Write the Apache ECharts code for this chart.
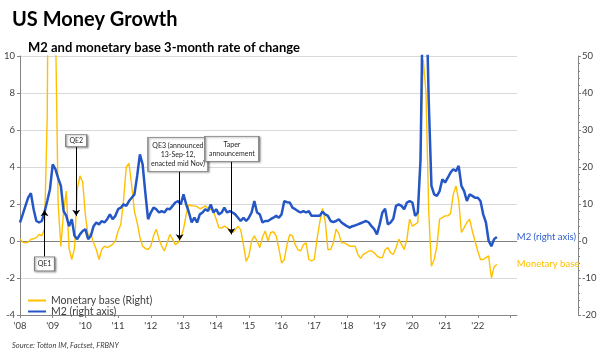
<!DOCTYPE html>
<html><head><meta charset="utf-8">
<script src="https://cdn.jsdelivr.net/npm/echarts@6/dist/echarts.min.js"></script>
<style>html,body{margin:0;padding:0;background:#fff}#c{width:602px;height:353px}</style>
</head><body><div id="c"></div>
<script>
// Monthly observations starting Jan 2008 (3-month rate of change, right-axis units)
const startYear = 2008;
const yearTicks = ["'08","'09","'10","'11","'12","'13","'14","'15","'16","'17","'18","'19","'20","'21","'22"];
const m2 = [
 5.0,7.2,9.5,11.7,12.9,8.6,5.4,5.0,5.4,7.8,10.8,14.0,
 20.7,19.4,17.0,14.9,8.1,6.8,4.0,5.9,1.4,0.5,1.8,2.7,
 3.2,0.5,1.4,4.0,5.0,4.5,5.4,5.0,5.9,7.2,5.9,6.8,
 8.6,9.0,9.9,9.5,10.8,11.7,12.6,17.6,23.4,20.7,13.0,5.9,
 7.7,9.0,8.6,7.7,8.1,7.7,8.7,8.6,9.5,10.4,10.8,9.9,
 12.6,9.9,7.7,5.0,6.3,5.0,7.2,7.7,8.6,8.1,9.9,7.7,
 8.6,7.2,7.7,9.0,7.7,8.1,7.7,7.2,6.3,5.4,6.3,5.4,
 6.3,7.7,10.8,7.7,7.2,5.0,5.4,5.4,5.9,6.3,6.8,6.3,
 7.2,10.8,10.5,10.4,9.0,8.6,8.1,7.7,8.1,7.7,8.1,6.8,
 6.8,6.8,6.8,7.9,7.2,6.8,5.4,5.1,5.4,5.9,5.0,4.5,
 4.0,3.6,4.0,4.2,4.5,4.8,5.1,5.4,5.0,4.0,3.2,1.8,
 4.5,7.7,8.7,4.5,5.0,6.0,9.5,9.9,9.5,8.6,10.4,10.8,
 10.4,6.8,7.7,22,75,70,38,14.9,12.6,12.2,13.5,16.7,
 15.8,17.1,18.5,19.4,18.9,20.3,14.9,13.5,10.8,12.6,12.2,11.7,
 11.7,10.8,7.2,5.0,0.0,-1.4,0.5,1.1
];
const monetaryBase = [
 0.5,-0.3,-0.5,-0.3,0.5,0.6,0.9,1.8,1.4,3.2,34,150,
 150,60,10,-1.5,8,13.5,-2,-5,-2,14,17.6,16,
 7,1.4,2,-0.5,-2.3,-5,-2.3,-1.4,-1.8,-1.4,-0.9,0,
 2.7,4.5,11,20,21,15,8,5,1,-1.4,-2,-2.3,
 -1.4,1.4,3.2,0.5,-1.4,-2.7,-0.5,1.8,0.5,-1,-0.5,1,
 3.2,7.2,9.9,9.5,9.5,9.3,8.7,9,9.5,8.8,8.6,8,
 5.9,3.6,3.5,4,3.6,2.7,2.3,3,4,3,-1,-5.5,
 -4,0,1.4,0,-1.8,1,2.7,0,2.3,2.5,1.4,-2,
 -6,-5,-1,1.8,1.4,-1,-2.3,-2.7,-1,-0.5,-5,-5.4,
 -5,0.5,5,8.8,5.4,-2.3,-2.3,-0.5,3.2,2,-0.5,-0.5,
 -0.9,-1.4,-1.4,-1.4,-3.6,-4.7,-3.6,-3.2,-2.7,-2.7,-3.2,-4,
 -4.5,-4.5,-2.3,-1.8,-3.2,-3.6,-1.8,0.5,-0.9,-2.3,0.5,5.9,
 4,4.5,5,25,49,40,8,-6.8,-5,-1.4,5.9,6.3,
 6.8,6.8,7.4,12.6,14.9,11,2.3,3.6,5,5.9,2.7,0,
 -2.7,-5,-5,-4.5,-4,-10,-7,-6.3
];
// Annotations: label, date (decimal year), value at arrow head, value at box edge, box centre value
const annLabels = ['QE1','QE2','QE3 (announced\n13-Sep-12,\nenacted mid Nov)','Taper\nannouncement'];
const annX      = [2008.75, 2009.72, 2012.884, 2014.462];
const annHead   = [8.3, 6.8, 0.2, 1.8];
const annTail   = [-4.2, 25.6, 18.8, 21.5];
const annBoxY   = [-6.2, 27.1, 23.4, 24.9];
const annBoxX   = [2008.75, 2009.72, 2012.83, 2014.48];

const toPairs = arr => arr.map((v, i) => [startYear + i / 12, v]);
const boxSizes = [[20,14],[21,12],[60,34],[54,25]];
const FONT = 'Lato, "Open Sans", sans-serif';

const chart = echarts.init(document.getElementById('c'), null, {renderer: 'canvas'});
chart.setOption({
  animation: false,
  backgroundColor: '#fff',
  textStyle: {fontFamily: FONT},
  title: [
    {text: 'US Money Growth', left: 7, top: 5, textStyle: {fontSize: 20, fontWeight: 'bold', color: '#000', fontFamily: FONT}},
    {text: 'M2 and monetary base 3-month rate of change', left: 23, top: 36, textStyle: {fontSize: 13, fontWeight: 'bold', color: '#000', fontFamily: FONT}},
    {text: 'Source: Totton IM, Factset, FRBNY', left: 7, top: 337, textStyle: {fontSize: 7.5, fontStyle: 'italic', fontWeight: 'normal', color: '#404040', fontFamily: FONT}}
  ],
  grid: {left: 20, right: 85, top: 56, bottom: 38},
  legend: {
    orient: 'vertical', left: 22, top: 290, itemGap: 0, itemWidth: 18, itemHeight: 10,
    itemStyle: {opacity: 0},
    textStyle: {fontSize: 10.5, color: '#404040', fontFamily: FONT},
    data: ['Monetary base (Right)', 'M2 (right axis)']
  },
  xAxis: {
    type: 'value', min: 2008, max: 2023.2, interval: 1,
    axisLine: {show: true, onZero: false, lineStyle: {color: '#868686'}},
    axisTick: {show: true, length: 3, lineStyle: {color: '#868686'}},
    splitLine: {show: false},
    axisLabel: {
      fontSize: 9.5, color: '#404040', margin: 6, showMaxLabel: false,
      formatter: v => { const i = Math.round(v) - startYear; return (i >= 0 && i < yearTicks.length && Math.abs(v - Math.round(v)) < 1e-6) ? yearTicks[i] : ''; }
    }
  },
  yAxis: [
    {
      type: 'value', min: -4, max: 10, interval: 2, position: 'left',
      axisLine: {show: true, lineStyle: {color: '#868686'}},
      axisTick: {show: true, length: 3, lineStyle: {color: '#868686'}},
      axisLabel: {fontSize: 9.5, color: '#404040', margin: 5},
      splitLine: {show: true, lineStyle: {color: ['#d9d9d9','#d9d9d9','#808080','#d9d9d9','#d9d9d9','#d9d9d9','#d9d9d9','#d9d9d9'], width: 1}}
    },
    {
      type: 'value', min: -20, max: 50, interval: 10, position: 'right', offset: 61,
      axisLine: {show: true, lineStyle: {color: '#868686'}},
      axisTick: {show: true, length: 3, lineStyle: {color: '#868686'}},
      minorTick: {show: true, splitNumber: 5, length: 2, lineStyle: {color: '#868686'}},
      axisLabel: {fontSize: 9.5, color: '#404040', margin: 4},
      splitLine: {show: false}
    }
  ],
  series: [
    {
      name: 'Monetary base (Right)', type: 'line', yAxisIndex: 1, data: toPairs(monetaryBase),
      symbol: 'none', lineStyle: {color: '#ffc000', width: 1.4}, itemStyle: {color: '#ffc000'},
      endLabel: {show: true, formatter: 'Monetary base', color: '#ffc000', fontSize: 9.5, distance: 20, fontFamily: FONT},
      z: 2
    },
    {
      name: 'M2 (right axis)', type: 'line', yAxisIndex: 1, data: toPairs(m2),
      symbol: 'none', lineStyle: {color: '#2457c5', width: 2.5}, itemStyle: {color: '#2457c5'},
      endLabel: {show: true, formatter: 'M2 (right axis)', color: '#2e5cc8', fontSize: 9.5, distance: 20, fontFamily: FONT},
      z: 3,
      markLine: {
        silent: true, symbol: ['none', 'arrow'], symbolSize: 6,
        lineStyle: {color: '#000', width: 1, type: 'solid'}, label: {show: false},
        data: annX.map((x, i) => [{coord: [x, annTail[i]]}, {coord: [x, annHead[i]]}])
      },
      markPoint: {
        silent: true, symbol: 'rect',
        data: annLabels.map((t, i) => ({
          coord: [annBoxX[i], annBoxY[i]], symbolSize: boxSizes[i],
          itemStyle: {color: '#fff', borderColor: '#7f7f7f', borderWidth: 1, shadowBlur: 2, shadowOffsetX: 1, shadowOffsetY: 1, shadowColor: 'rgba(0,0,0,0.35)'},
          label: {show: true, position: 'inside', formatter: t, color: '#262626', fontSize: 7, lineHeight: 9, fontFamily: FONT}
        }))
      }
    }
  ]
});
</script></body></html>
